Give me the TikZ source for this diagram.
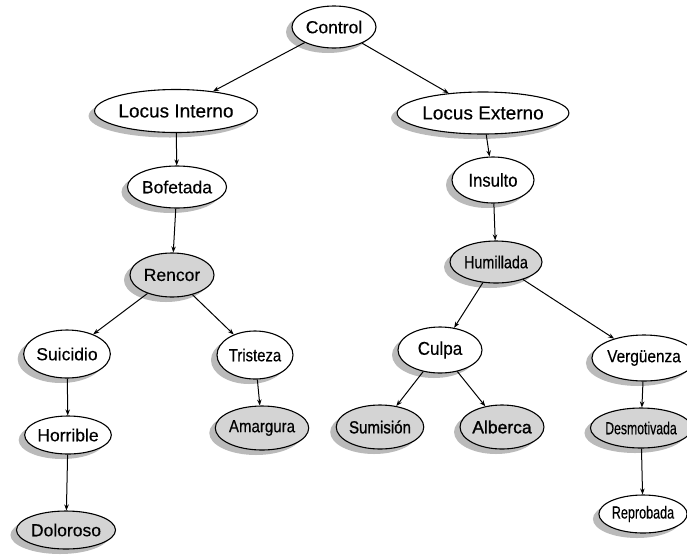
\documentclass[tikz,border=0pt]{standalone}
\usepackage{fontspec}
\setmainfont{Liberation Sans}[FakeBold=0.35]
\usepackage{graphicx}
\usetikzlibrary{shapes.geometric,shadows,arrows.meta}

% horizontally condensed label
\newcommand{\narrow}[2]{\scalebox{#1}[1]{#2}}

\tikzset{
  concept/.style={ellipse, draw=black, line width=1.1pt, fill=white, inner sep=0pt,
    font=\fontsize{17.5}{19}\selectfont,
    drop shadow={shadow xshift=-6pt, shadow yshift=-5pt, fill=black!27, opacity=1}},
  marked/.style={concept, fill=black!17},
  link/.style={-{Stealth[length=6pt,width=4.5pt]}, line width=1pt},
}

\begin{document}
\begin{tikzpicture}[x=1pt, y=-1pt]
\useasboundingbox (0,0) rectangle (687,555);

% root and the two loci
\node[concept, minimum width=84pt, minimum height=42pt] (control) at (334,27) {Control};
\node[concept, minimum width=156pt, minimum height=43pt, font=\fontsize{19}{21}\selectfont] (lint) at (176,111) {Locus Interno};
\node[concept, minimum width=160pt, minimum height=42pt, font=\fontsize{19}{21}\selectfont] (lext) at (483,113) {Locus Externo};

% internal branch
\node[concept, minimum width=86pt, minimum height=42pt] (bofetada) at (177,187) {Bofetada};
\node[marked, minimum width=84pt, minimum height=44pt] (rencor) at (172,275) {Rencor};
\node[concept, minimum width=82pt, minimum height=48pt] (suicidio) at (67,354) {Suicidio};
\node[concept, minimum width=76pt, minimum height=48pt] (tristeza) at (255,355) {\narrow{0.85}{Tristeza}};
\node[concept, minimum width=84pt, minimum height=38pt] (horrible) at (68,435) {Horrible};
\node[marked, minimum width=82pt, minimum height=44pt] (amargura) at (262,428) {\narrow{0.86}{Amargura}};
\node[marked, minimum width=84pt, minimum height=38pt] (doloroso) at (66,530) {Doloroso};

% external branch
\node[concept, minimum width=82pt, minimum height=46pt, font=\fontsize{18.5}{20}\selectfont] (insulto) at (493,180) {\narrow{0.9}{Insulto}};
\node[marked, minimum width=92pt, minimum height=42pt] (humillada) at (496,262) {\narrow{0.82}{Humillada}};
\node[concept, minimum width=84pt, minimum height=46pt, font=\fontsize{18.5}{20}\selectfont] (culpa) at (440,350) {\narrow{0.92}{Culpa}};
\node[concept, minimum width=84pt, minimum height=46pt] (verguenza) at (644,358) {\narrow{0.88}{Vergüenza}};
\node[marked, minimum width=80pt, minimum height=44pt, font=\fontsize{17.5}{19}\selectfont\addfontfeature{FakeBold=1.2}] (sumision) at (380,427) {\narrow{0.86}{Sumisión}};
\node[marked, minimum width=80pt, minimum height=44pt, font=\fontsize{17.5}{19}\selectfont\addfontfeature{FakeBold=1.2}] (alberca) at (502,427) {Alberca};
\node[marked, minimum width=86pt, minimum height=40pt] (desmotivada) at (641,428) {\narrow{0.7}{Desmotivada}};
\node[concept, minimum width=76pt, minimum height=38pt] (reprobada) at (643,514) {\narrow{0.72}{Reprobada}};

% connectors
\draw[link] (control) -- (lint);
\draw[link] (control) -- (lext);
\draw[link] (lint) -- (bofetada);
\draw[link] (bofetada) -- (rencor);
\draw[link] (rencor) -- (suicidio);
\draw[link] (rencor) -- (tristeza);
\draw[link] (suicidio) -- (horrible);
\draw[link] (horrible) -- (doloroso);
\draw[link] (tristeza) -- (amargura);
\draw[link] (lext) -- (insulto);
\draw[link] (insulto) -- (humillada);
\draw[link] (humillada) -- (culpa);
\draw[link] (humillada) -- (verguenza);
\draw[link] (culpa) -- (sumision);
\draw[link] (culpa) -- (alberca);
\draw[link] (verguenza) -- (desmotivada);
\draw[link] (desmotivada) -- (reprobada);
\end{tikzpicture}
\end{document}
